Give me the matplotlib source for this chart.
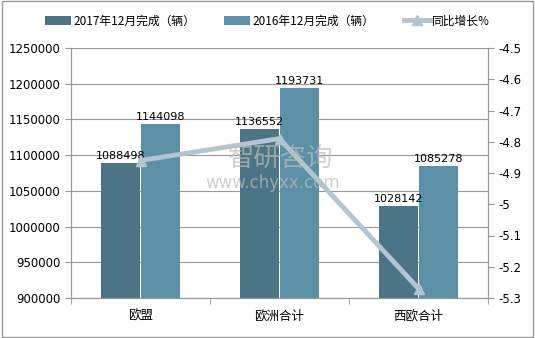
import matplotlib.pyplot as plt
import matplotlib.ticker as mticker
import numpy as np

plt.rcParams['font.family'] = ['Noto Sans CJK SC', 'DejaVu Sans']

categories = ['欧盟', '欧洲合计', '西欧合计']
done_2017 = [1088498, 1136552, 1028142]
done_2016 = [1144098, 1193731, 1085278]
yoy = [-4.86, -4.79, -5.27]

c2017 = '#4b7585'
c2016 = '#5b90a6'
cline = '#b3c5d0'
gray = '#999999'

fig = plt.figure(figsize=(5.35, 3.38), dpi=100)
ax = fig.add_axes([71 / 535, 40 / 338, 417 / 535, 250 / 338])
ax2 = ax.twinx()

x = np.arange(len(categories))
w = 0.28
b1 = ax.bar(x - w / 2 - 0.005, done_2017, w, color=c2017, label='2017年12月完成（辆）', zorder=2)
b2 = ax.bar(x + w / 2 + 0.005, done_2016, w, color=c2016, label='2016年12月完成（辆）', zorder=2)
for bars, vals in ((b1, done_2017), (b2, done_2016)):
    for r, v in zip(bars, vals):
        ax.text(r.get_x() + r.get_width() / 2, v + 3000, str(v), ha='center', va='bottom',
                fontsize=8, family='DejaVu Sans', zorder=5)

ax.set_ylim(900000, 1250000)
ax.set_yticks(np.arange(900000, 1250001, 50000))
ax.yaxis.set_major_formatter(mticker.FuncFormatter(lambda v, p: '%d' % v))
ax.set_xlim(-0.5, 2.5)
ax.set_xticks(x)
ax.set_xticklabels(categories, fontsize=9)
ax.set_xticks([-0.5, 0.5, 1.5, 2.5], minor=True)
ax.tick_params(axis='x', which='major', length=0, pad=8)
ax.tick_params(axis='x', which='minor', length=4, color=gray)
ax.tick_params(axis='y', length=4, color=gray, labelsize=8.5)
ax.yaxis.grid(True, color=gray, linewidth=0.8, zorder=0)
ax.set_axisbelow(True)
ax.spines['top'].set_visible(False)
for s in ['left', 'bottom', 'right']:
    ax.spines[s].set_color(gray)
for lab in ax.get_yticklabels():
    lab.set_family('DejaVu Sans')

l, = ax2.plot(x, yoy, color=cline, linewidth=3.5, marker='^', markersize=7,
              label='同比增长%', zorder=4)
rticks = np.round(np.arange(-5.3, -4.49, 0.1), 1)
ax2.set_ylim(-5.3, -4.5)
ax2.set_yticks(rticks)
ax2.set_yticklabels(['%g' % t for t in rticks], family='DejaVu Sans', fontsize=8.5)
ax2.tick_params(axis='y', length=4, color=gray)
ax2.spines['top'].set_visible(False)
for s in ['left', 'bottom', 'right']:
    ax2.spines[s].set_color(gray)
ax.set_zorder(1)
ax2.set_zorder(2)
ax2.patch.set_visible(False)

# watermark
fig.text(228 / 535, 1 - 158 / 338, '智研咨询', fontsize=19, color='#bbbbbb', alpha=0.7,
         ha='left', va='center', zorder=10)
fig.text(205 / 535, 1 - 183 / 338, 'www.chyxx.com', fontsize=12, color='#bbbbbb', alpha=0.7,
         ha='left', va='center', zorder=10, family='DejaVu Sans')

fig.legend(handles=[b1, b2, l], loc='center', bbox_to_anchor=(0.5, 1 - 21 / 338),
           ncol=3, frameon=False, fontsize=8.5, handlelength=2.2, columnspacing=2.5,
           handletextpad=0.2)

fig.patches.append(plt.Rectangle((0.004, 0.004), 0.992, 0.992, transform=fig.transFigure,
                                 fill=False, edgecolor=gray, linewidth=1))
fig.savefig('out.png', dpi=100)
